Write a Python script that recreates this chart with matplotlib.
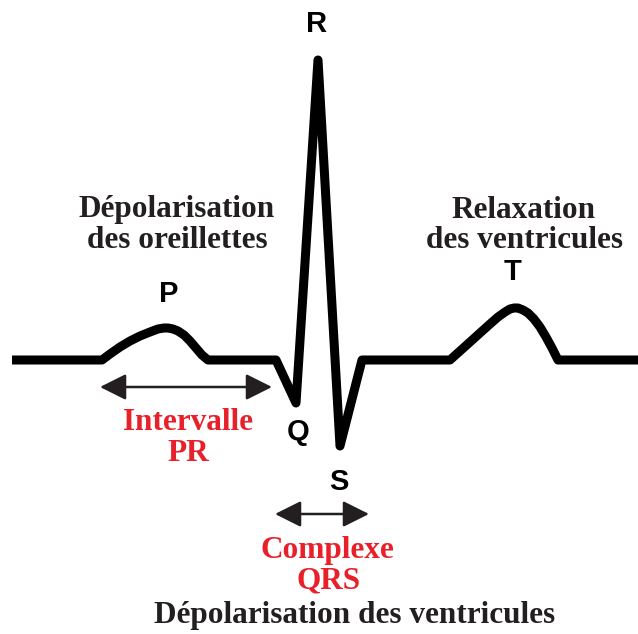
import matplotlib
matplotlib.use("Agg")
import matplotlib.pyplot as plt

# ECG trace: time (arbitrary units) and amplitude relative to baseline
p_t = [102, 110, 120, 130, 140, 150, 158, 164, 168, 173, 178, 184, 190, 196, 202, 208]
p_v = [0, 6, 13, 19, 24, 28, 31, 32, 32, 31, 29, 25, 19, 12, 5, 0]
qrs_t = [276, 296, 318, 340, 362]
qrs_v = [0, -43, 300, -86, 0]
t_t = [450, 460, 470, 480, 490, 498, 505, 510, 514, 518, 523, 528, 534, 540, 546, 552, 558]
t_v = [0, 9, 18, 27, 36, 43, 48, 51, 52, 52, 50, 47, 41, 33, 23, 12, 0]
start_t, end_t = 12, 638

ecg_t = [start_t] + p_t + qrs_t + t_t + [end_t]
ecg_v = [0] + p_v + qrs_v + t_v + [0]

# wave labels
wave_labels = ["P", "R", "T", "Q", "S"]
wave_t = [169, 317, 513, 298, 339]
wave_v = [66, 336, 88, -72, -122]

# interval arrows
pr_interval = (100, 272)
qrs_interval = (275, 369)
pr_v = -27
qrs_v_arrow = -154

dark = "#231f20"
red = "#e8202a"

fig = plt.figure(figsize=(6.38, 6.34), dpi=100)
ax = fig.add_axes([0, 0, 1, 1])
ax.set_xlim(0, 638)
ax.set_ylim(-274, 360)
ax.axis("off")

ax.plot(ecg_t, ecg_v, color="black", lw=6.5, solid_joinstyle="round",
        solid_capstyle="butt")

for lab, t, v in zip(wave_labels, wave_t, wave_v):
    ax.text(t, v, lab, ha="center", va="center", fontsize=21,
            fontweight="bold", family="Liberation Sans", color="black")

serif = dict(family="Liberation Serif", fontweight="bold", fontsize=22.5,
             ha="center", va="baseline")

ax.text(177, 360 - 217, "Dépolarisation", color=dark, **serif)
ax.text(177, 360 - 248, "des oreillettes", color=dark, **serif)
ax.text(524, 360 - 218, "Relaxation", color=dark, **serif)
ax.text(524, 360 - 248, "des ventricules", color=dark, **serif)
ax.text(188, 360 - 430, "Intervalle", color=red, **serif)
ax.text(188, 360 - 461, "PR", color=red, **serif)
ax.text(327, 360 - 558, "Complexe", color=red, **serif)
ax.text(329, 360 - 588, "QRS", color=red, **serif)
ax.text(355, 360 - 623, "Dépolarisation des ventricules", color=dark, **serif)

for (a, b), v in [(pr_interval, pr_v), (qrs_interval, qrs_v_arrow)]:
    ax.annotate("", xy=(b, v), xytext=(a, v),
                arrowprops=dict(arrowstyle="<|-|>,head_length=0.8,head_width=0.4",
                                color=dark, lw=1.8, mutation_scale=20,
                                shrinkA=0, shrinkB=0))

fig.savefig("out.png", dpi=100, facecolor="white")
